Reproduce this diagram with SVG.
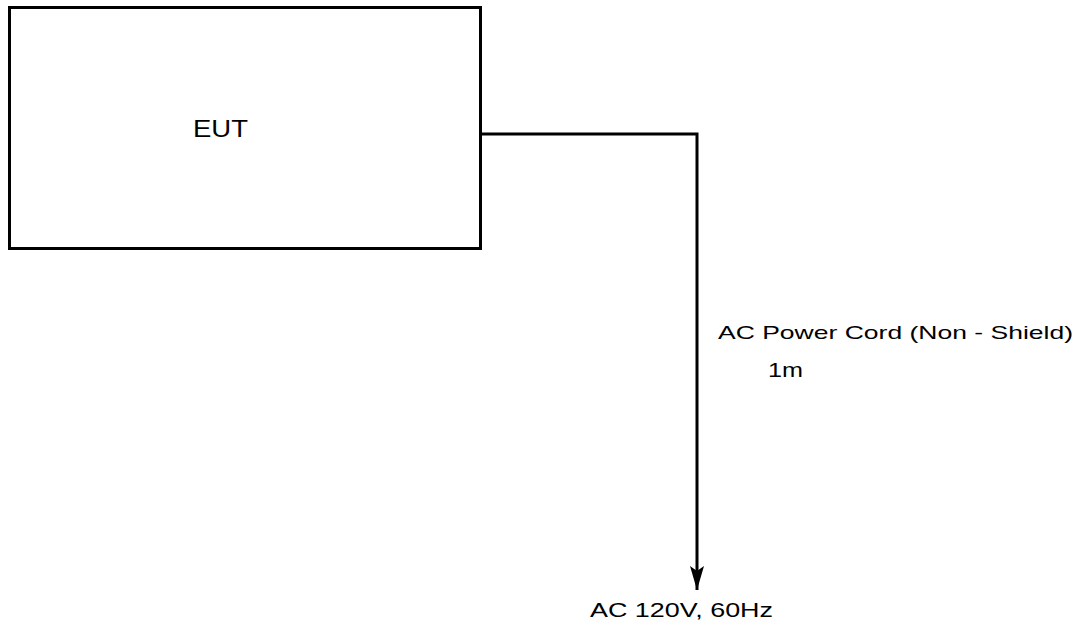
<svg xmlns="http://www.w3.org/2000/svg" width="1083" height="625" viewBox="0 0 1083 625">
<style>
.box{fill:#fff;stroke:#000;stroke-width:3}
.wire{fill:none;stroke:#000;stroke-width:3}
text{font-family:"Liberation Sans",Arial,sans-serif;fill:#000}
</style>
<defs>
<marker id="arr" viewBox="0 0 24 14" refX="24" refY="7" markerWidth="24" markerHeight="14" markerUnits="userSpaceOnUse" orient="auto">
<path d="M0,0 L24,7 L0,14 L5,7 Z" fill="#000"/>
</marker>
</defs>
<rect width="1083" height="625" fill="#fff"/>
<g id="eut">
<rect class="box" x="9.5" y="7.5" width="471" height="241"/>
<text x="193" y="137" font-size="23" textLength="55" lengthAdjust="spacingAndGlyphs">EUT</text>
</g>
<g id="connectors">
<path class="wire" d="M481,134 H697 V590" marker-end="url(#arr)"/>
</g>
<g id="labels">
<text x="718" y="339" font-size="19" textLength="355" lengthAdjust="spacingAndGlyphs">AC Power Cord (Non - Shield)</text>
<text x="768" y="377" font-size="20" textLength="35" lengthAdjust="spacingAndGlyphs">1m</text>
</g>
<g id="supply">
<text x="590" y="617" font-size="20" textLength="183" lengthAdjust="spacingAndGlyphs">AC 120V, 60Hz</text>
</g>
</svg>
